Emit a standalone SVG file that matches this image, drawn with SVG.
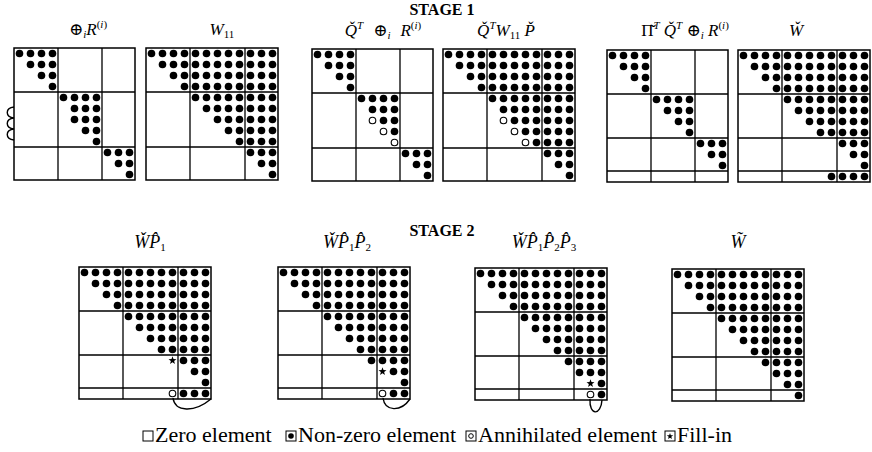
<svg xmlns="http://www.w3.org/2000/svg" xmlns:xlink="http://www.w3.org/1999/xlink" width="872" height="452" viewBox="0 0 872 452">
  <style>
    text { font-family: "Liberation Serif", "Times New Roman", "DejaVu Serif", serif; fill: #000; }
    .stage { font-size: 16px; font-weight: bold; text-anchor: middle; }
    .ttl { font-size: 17px; text-anchor: middle; }
    .ttl2 { font-size: 18px; text-anchor: middle; }
    .it { font-style: italic; }
    .s { font-size: 11px; }
    .si { font-size: 11px; font-style: italic; }
    .leg { font-size: 22px; }
    .frame { fill: #fff; stroke: #000; stroke-width: 1.5; }
    .grid { fill: none; stroke: #000; stroke-width: 1.3; }
    .nz { fill: url(#nz); }
    .ann { fill: #fff; stroke: #000; stroke-width: 1.1; }
    .conn { fill: none; stroke: #000; stroke-width: 1.4; }
    .key { fill: #fff; stroke: #000; stroke-width: 1; }
  </style>
  <defs>
    <!-- one non-zero entry per 11x11 cell -->
    <pattern id="nz" width="11" height="11" patternUnits="userSpaceOnUse">
      <circle cx="5.5" cy="5.5" r="3.8" fill="#000"/>
    </pattern>
    <path id="star" d="M0,-4.2L1,-1.38L3.99,-1.3L1.62,0.53L2.47,3.4L0,1.7L-2.47,3.4L-1.62,0.53L-3.99,-1.3L-1,-1.38Z" fill="#000"/>
  </defs>
  <rect width="872" height="452" fill="#fff"/>

  <!-- stage labels -->
  <text class="stage" x="442" y="15">STAGE 1</text>
  <text class="stage" x="442" y="236">STAGE 2</text>

  <!-- ===== Stage 1 ===== -->
  <g id="m1">
    <text class="ttl" x="88" y="35">⊕<tspan class="si" dy="3">i</tspan><tspan class="it" dy="-3">R</tspan><tspan class="s" dy="-7">(<tspan class="it">i</tspan>)</tspan></text>
    <g transform="translate(14,48)">
      <rect class="frame" width="121" height="132"/>
      <path class="grid" d="M44,0V132M88,0V132M0,44H121M0,99H121"/>
      <path class="nz" d="M0,0h44v11h-44zM11,11h33v11h-33zM22,22h22v11h-22zM33,33h11v11h-11zM44,44h44v11h-44zM55,55h33v11h-33zM55,66h33v11h-33zM66,77h22v11h-22zM77,88h11v11h-11zM88,99h33v11h-33zM99,110h22v11h-22zM110,121h11v11h-11z"/>
    </g>
  </g>

  <g id="m2">
    <text class="ttl" x="222" y="35"><tspan class="it">W</tspan><tspan class="s" dy="3">11</tspan></text>
    <g transform="translate(146,48)">
      <rect class="frame" width="132" height="132"/>
      <path class="grid" d="M44,0V132M99,0V132M0,44H132M0,99H132"/>
      <path class="nz" d="M0,0H132V132H121V121H110V110H99V99H88V88H77V77H66V66H55V55H44V44H33V33H22V22H11V11H0Z"/>
    </g>
  </g>

  <g id="m3">
    <text class="ttl" x="383" y="36"><tspan class="it">Q̌</tspan><tspan class="si" dy="-7">T</tspan><tspan dx="10" dy="7">⊕</tspan><tspan class="si" dy="3">i</tspan><tspan class="it" dx="10" dy="-3">R</tspan><tspan class="s" dy="-7">(<tspan class="it">i</tspan>)</tspan></text>
    <g transform="translate(312,49)">
      <rect class="frame" width="121" height="132"/>
      <path class="grid" d="M44,0V132M88,0V132M0,44H121M0,99H121"/>
      <path class="nz" d="M0,0h44v11h-44zM11,11h33v11h-33zM22,22h22v11h-22zM33,33h11v11h-11zM44,44h44v11h-44zM55,55h33v11h-33zM66,66h22v11h-22zM77,77h11v11h-11zM88,99h33v11h-33zM99,110h22v11h-22zM110,121h11v11h-11z"/>
      <circle class="ann" cx="60.5" cy="71.5" r="3.3"/>
      <circle class="ann" cx="71.5" cy="82.5" r="3.3"/>
      <circle class="ann" cx="82.5" cy="93.5" r="3.3"/>
    </g>
  </g>

  <g id="m4">
    <text class="ttl" x="506" y="36"><tspan class="it">Q̌</tspan><tspan class="si" dy="-7">T</tspan><tspan class="it" dy="7">W</tspan><tspan class="s" dy="3">11</tspan><tspan class="it" dy="-3"> P̌</tspan></text>
    <g transform="translate(443,49)">
      <rect class="frame" width="132" height="132"/>
      <path class="grid" d="M44,0V132M99,0V132M0,44H132M0,99H132"/>
      <path class="nz" d="M0,0H132V132H121V121H110V110H99V99H88V88H77V77H66V66H55V55H44V44H33V33H22V22H11V11H0Z"/>
      <circle class="ann" cx="60.5" cy="71.5" r="3.3"/>
      <circle class="ann" cx="71.5" cy="82.5" r="3.3"/>
      <circle class="ann" cx="82.5" cy="93.5" r="3.3"/>
    </g>
  </g>

  <g id="m5">
    <text class="ttl" x="685" y="36">Π̌<tspan class="si" dy="-7">T</tspan><tspan class="it" dy="7"> Q̌</tspan><tspan class="si" dy="-7">T</tspan><tspan dy="7"> ⊕</tspan><tspan class="si" dy="3">i</tspan><tspan class="it" dy="-3"> R</tspan><tspan class="s" dy="-7">(<tspan class="it">i</tspan>)</tspan></text>
    <g transform="translate(607,50)">
      <rect class="frame" width="121" height="132"/>
      <path class="grid" d="M44,0V132M88,0V132M0,44H121M0,88H121M0,121H121"/>
      <path class="nz" d="M0,0h44v11h-44zM11,11h33v11h-33zM22,22h22v11h-22zM33,33h11v11h-11zM44,44h44v11h-44zM55,55h33v11h-33zM66,66h22v11h-22zM77,77h11v11h-11zM88,88h33v11h-33zM99,99h22v11h-22zM110,110h11v11h-11z"/>
    </g>
  </g>

  <g id="m6">
    <text class="ttl it" x="796" y="36">W̌</text>
    <g transform="translate(738,50)">
      <rect class="frame" width="132" height="132"/>
      <path class="grid" d="M44,0V132M99,0V132M0,44H132M0,88H132M0,121H132"/>
      <path class="nz" d="M0,0H132V88H77V77H66V66H55V55H44V44H33V33H22V22H11V11H0ZM99,88h33v11h-33zM110,99h22v11h-22zM121,110h11v11h-11zM88,121h44v11h-44z"/>
    </g>
  </g>

  <!-- ===== Stage 2 ===== -->
  <g id="m7">
    <text class="ttl2" x="150" y="248"><tspan class="it">W̌P̂</tspan><tspan class="s" dy="3">1</tspan></text>
    <g transform="translate(79,267)">
      <rect class="frame" width="132" height="132"/>
      <path class="grid" d="M44,0V132M99,0V132M0,44H132M0,88H132M0,121H132"/>
      <path class="nz" d="M0,0H132V88H77V77H66V66H55V55H44V44H33V33H22V22H11V11H0ZM99,88h33v11h-33zM110,99h22v11h-22zM121,110h11v11h-11zM99,121h33v11h-33z"/>
      <use xlink:href="#star" x="93.5" y="93.5"/>
      <circle class="ann" cx="93.5" cy="126.5" r="3.3"/>
    </g>
  </g>

  <g id="m8">
    <text class="ttl2" x="347" y="248"><tspan class="it">W̌P̂</tspan><tspan class="s" dy="3">1</tspan><tspan class="it" dy="-3">P̂</tspan><tspan class="s" dy="3">2</tspan></text>
    <g transform="translate(278,267)">
      <rect class="frame" width="132" height="132"/>
      <path class="grid" d="M44,0V132M99,0V132M0,44H132M0,88H132M0,121H132"/>
      <path class="nz" d="M0,0H132V99H88V88H77V77H66V66H55V55H44V44H33V33H22V22H11V11H0ZM110,99h22v11h-22zM121,110h11v11h-11zM110,121h22v11h-22z"/>
      <use xlink:href="#star" x="104.5" y="104.5"/>
      <circle class="ann" cx="104.5" cy="126.5" r="3.3"/>
    </g>
  </g>

  <g id="m9">
    <text class="ttl2" x="544" y="248"><tspan class="it">W̌P̂</tspan><tspan class="s" dy="3">1</tspan><tspan class="it" dy="-3">P̂</tspan><tspan class="s" dy="3">2</tspan><tspan class="it" dy="-3">P̂</tspan><tspan class="s" dy="3">3</tspan></text>
    <g transform="translate(475,268)">
      <rect class="frame" width="132" height="132"/>
      <path class="grid" d="M44,0V132M99,0V132M0,44H132M0,88H132M0,121H132"/>
      <path class="nz" d="M0,0H132V110H99V99H88V88H77V77H66V66H55V55H44V44H33V33H22V22H11V11H0ZM121,110h11v22h-11z"/>
      <use xlink:href="#star" x="115.5" y="115.5"/>
      <circle class="ann" cx="115.5" cy="126.5" r="3.3"/>
    </g>
  </g>

  <g id="m10">
    <text class="ttl2 it" x="738" y="248">W̃</text>
    <g transform="translate(672,269)">
      <rect class="frame" width="132" height="132"/>
      <path class="grid" d="M44,0V132M99,0V132M0,44H132M0,88H132M0,121H132"/>
      <path class="nz" d="M0,0H132V132H121V121H110V110H99V99H88V88H77V77H66V66H55V55H44V44H33V33H22V22H11V11H0Z"/>
    </g>
  </g>

  <!-- rotations and row moves -->
  <g id="connectors">
    <path class="conn" d="M14,107C5,108 5,117 14,118C5,119 5,128 14,129C5,130 5,139 14,140"/>
    <path class="conn" d="M173,398C175,412 194,413 211,399"/>
    <path class="conn" d="M383,398C385,412 401,412 410,399"/>
    <path class="conn" d="M590,399C589,416 601,416 602,400"/>
  </g>

  <!-- key -->
  <g id="legend">
    <rect class="key" x="143" y="431" width="10" height="10"/>
    <text class="leg" x="155" y="442">Zero element</text>
    <rect class="key" x="286" y="431" width="10" height="10"/>
    <circle cx="291" cy="436" r="2.8" fill="#000"/>
    <text class="leg" x="298" y="442">Non-zero element</text>
    <rect class="key" x="466" y="431" width="10" height="10"/>
    <circle cx="471" cy="436" r="2.3" fill="#fff" stroke="#000" stroke-width="1"/>
    <text class="leg" x="478" y="442">Annihilated element</text>
    <rect class="key" x="665" y="431" width="10" height="10"/>
    <use xlink:href="#star" transform="translate(670,436.3) scale(0.8)"/>
    <text class="leg" x="677" y="442">Fill-in</text>
  </g>
</svg>
